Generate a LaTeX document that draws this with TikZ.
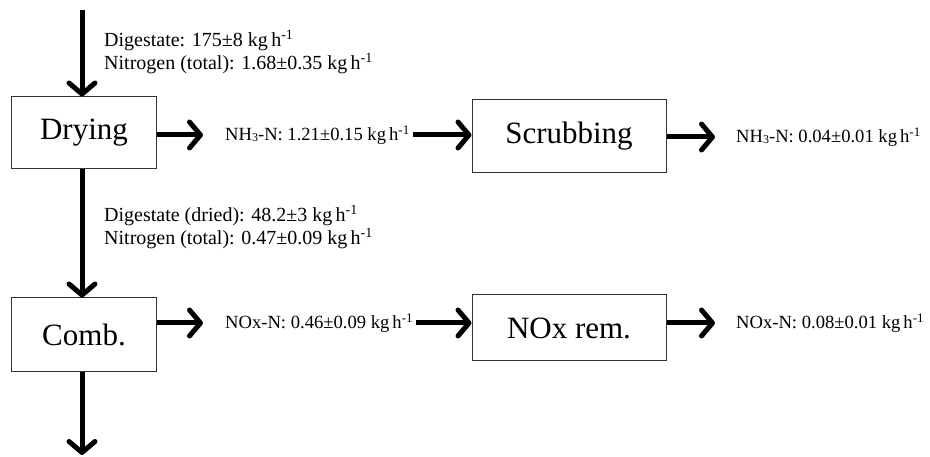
\documentclass[tikz,border=0pt]{standalone}
\usepackage{fontspec}
\setmainfont{Liberation Serif}
\usetikzlibrary{arrows.meta}
\newcommand{\perh}{kg\,h\textsuperscript{-1}}
\newcommand{\subthree}{\raisebox{-1.5pt}{\fontsize{12}{12}\selectfont 3}}
\tikzset{
  box/.style={draw=black!80, line width=1pt, minimum width=145pt, minimum height=72pt, inner sep=0pt, font=\fontsize{31}{36}\selectfont},
  wbox/.style={box, minimum width=194pt},
  lbl/.style={anchor=west, inner sep=0pt, font=\fontsize{20}{23}\selectfont},
  slbl/.style={lbl, font=\fontsize{18.6}{23}\selectfont},
  flow/.style={line width=5pt, -{Straight Barb[length=11pt,width=26pt,line width=5pt,round]}},
}
\begin{document}
\begin{tikzpicture}[x=1pt,y=-1pt]
\useasboundingbox (0,0) rectangle (930,457);
\node[box] (drying) at (84,133) {Drying};
\node[wbox, minimum height=73pt] (scrub) at (569,136.5) {Scrubbing};
\node[box, minimum height=74pt] (comb) at (84,335) {Comb.};
\node[wbox, minimum height=66pt] (noxrem) at (569,328) {NOx rem.};
\coordinate (in) at (82,10);
\coordinate (out) at (82,455);
\node[lbl, align=left] (l1) at (104,52) {Digestate: 175±8 \perh\\Nitrogen (total): 1.68±0.35 \perh};
\node[lbl, align=left] (l2) at (104,227) {Digestate (dried): 48.2±3 \perh\\Nitrogen (total): 0.47±0.09 \perh};
\node[slbl] (nh3a) at (225,135) {NH\subthree-N: 1.21±0.15 \perh};
\node[slbl] (nh3b) at (736,137) {NH\subthree-N: 0.04±0.01 \perh};
\node[slbl] (noxa) at (225,323) {NOx-N: 0.46±0.09 \perh};
\node[slbl] (noxb) at (736,323) {NOx-N: 0.08±0.01 \perh};
\draw[flow] (in) -- (in |- drying.north);
\draw[flow] (in |- drying.south) -- (in |- comb.north);
\draw[flow] (in |- comb.south) -- (out);
\draw[flow, shorten >=22pt] (drying.east |- nh3a.west) -- (nh3a.west);
\draw[flow, shorten <=3pt] (nh3a.east) -- (scrub.west |- nh3a.east);
\draw[flow, shorten >=21pt] (scrub.east |- nh3b.west) -- (nh3b.west);
\draw[flow, shorten >=22pt] (comb.east |- noxa.west) -- (noxa.west);
\draw[flow, shorten <=3pt] (noxa.east) -- (noxrem.west |- noxa.east);
\draw[flow, shorten >=21pt] (noxrem.east |- noxb.west) -- (noxb.west);
\end{tikzpicture}
\end{document}
